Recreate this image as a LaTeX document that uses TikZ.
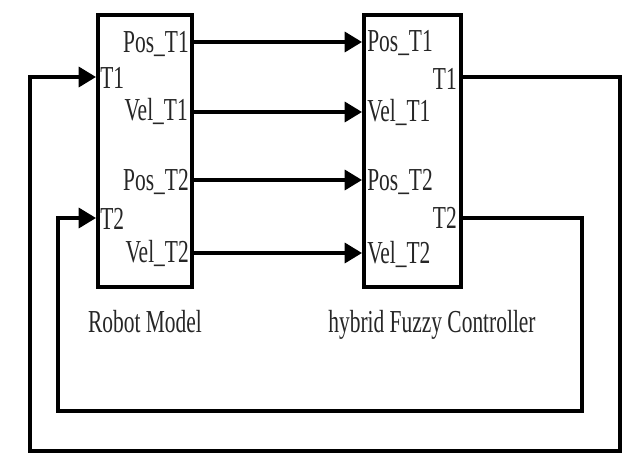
\documentclass[tikz,border=0pt]{standalone}
\usepackage{fontspec}
\newfontfamily\lblfont[FakeStretch=0.67]{Liberation Serif}
\usetikzlibrary{arrows.meta}
\begin{document}
\begin{tikzpicture}[x=0.75pt,y=-0.75pt,
  blockbox/.style={draw=black,line width=3pt,fill=white,minimum height=272*0.75pt,inner sep=0pt},
  wire/.style={line width=2.6pt,line join=miter},
  arr/.style={wire,-{Triangle[length=13pt,width=15pt]}},
  lbl/.style={font=\lblfont\fontsize{24pt}{26pt}\selectfont,inner sep=0pt,text=black!85}]
\useasboundingbox (0,0) rectangle (624,454);
\node[blockbox,minimum width=94*0.75pt] (L) at (145,151) {};
\node[blockbox,minimum width=97*0.75pt] (R) at (412.5,151) {};
% port rows
\coordinate (r1) at (0,42);
\coordinate (r2) at (0,112);
\coordinate (r3) at (0,180);
\coordinate (r4) at (0,253);
\coordinate (f1) at (0,77);
\coordinate (f2) at (0,218);
% labels left box
\node[lbl,anchor=base east] (lpos1) at (189,52) {Pos\_T1};
\node[lbl,anchor=base west] (lt1) at (100,88) {T1};
\node[lbl,anchor=base east] (lvel1) at (188,120) {Vel\_T1};
\node[lbl,anchor=base east] (lpos2) at (189,190) {Pos\_T2};
\node[lbl,anchor=base west] (lt2) at (100,229) {T2};
\node[lbl,anchor=base east] (lvel2) at (189,262) {Vel\_T2};
% labels right box
\node[lbl,anchor=base west] (rpos1) at (367,51) {Pos\_T1};
\node[lbl,anchor=base east] (rt1) at (457,89) {T1};
\node[lbl,anchor=base west] (rvel1) at (367,121) {Vel\_T1};
\node[lbl,anchor=base west] (rpos2) at (367,190) {Pos\_T2};
\node[lbl,anchor=base east] (rt2) at (457,228) {T2};
\node[lbl,anchor=base west] (rvel2) at (367,263) {Vel\_T2};
% captions
\node[lbl,anchor=base] (capL) at (145,332) {Robot Model};
\node[lbl,anchor=base] (capR) at (432,332) {hybrid Fuzzy Controller};
% forward connectors
\draw[arr] (L.east |- r1) -- (R.west |- r1);
\draw[arr] (L.east |- r2) -- (R.west |- r2);
\draw[arr] (L.east |- r3) -- (R.west |- r3);
\draw[arr] (L.east |- r4) -- (R.west |- r4);
% feedback loops
\coordinate (o1) at (620,451);
\coordinate (o2) at (30,451);
\coordinate (i1) at (582,411);
\coordinate (i2) at (58,411);
\draw[arr] (R.east |- f1) -- (o1 |- f1) -- (o1) -- (o2) -- (o2 |- f1) -- (L.west |- f1);
\draw[arr] (R.east |- f2) -- (i1 |- f2) -- (i1) -- (i2) -- (i2 |- f2) -- (L.west |- f2);
\end{tikzpicture}
\end{document}
